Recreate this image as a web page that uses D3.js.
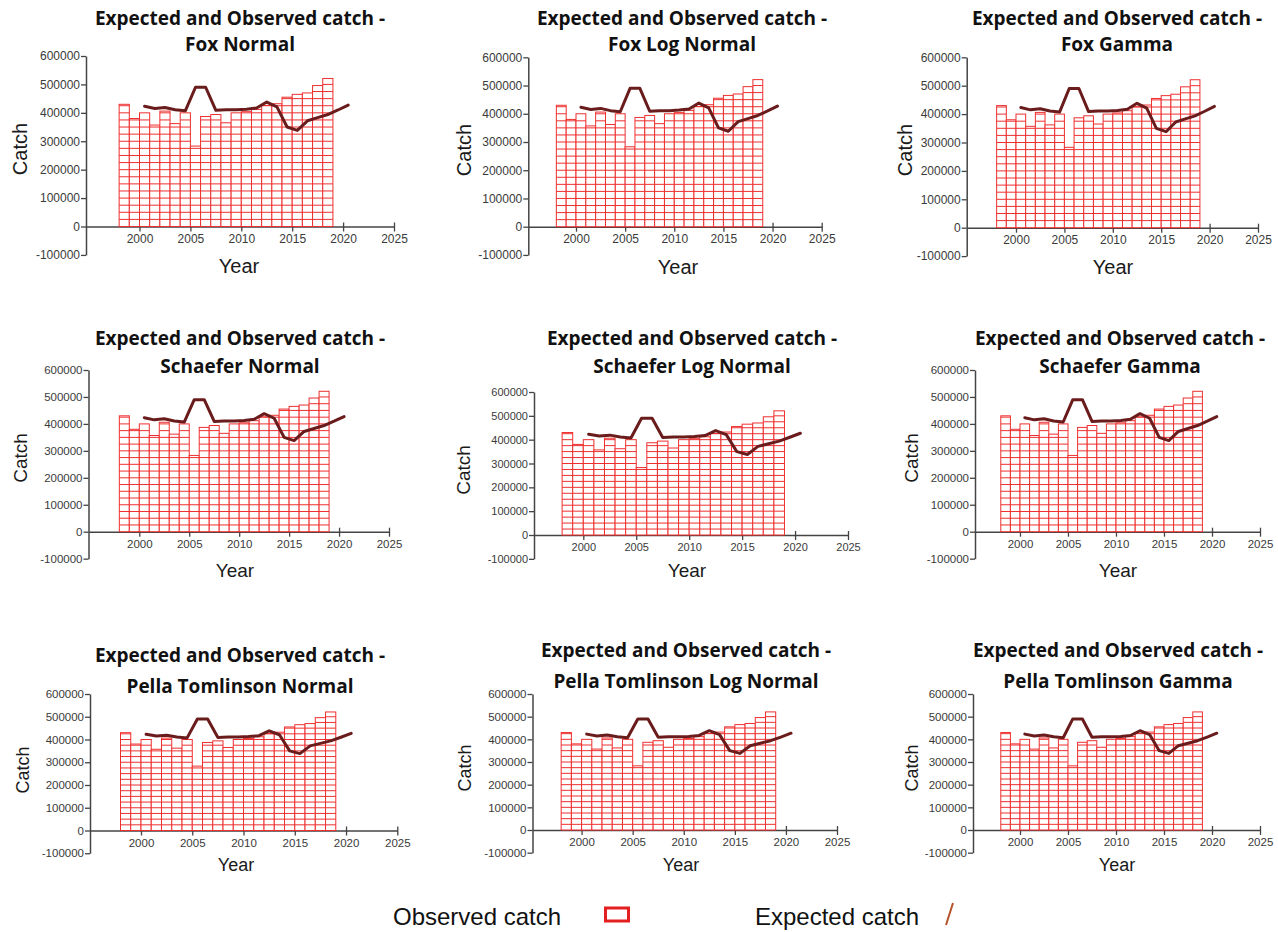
<!DOCTYPE html>
<html>
<head>
<meta charset="utf-8">
<script src="https://cdn.jsdelivr.net/npm/d3@7"></script>
<style>
  html, body { margin: 0; padding: 0; background: #fff; }
  svg { display: block; }
</style>
</head>
<body>
<svg id="chart" width="1278" height="932"></svg>
<script>
// Observed catch: one block per year, filling [year, year + 1)
const obsYears = [1998, 1999, 2000, 2001, 2002, 2003, 2004, 2005, 2006, 2007, 2008,
                  2009, 2010, 2011, 2012, 2013, 2014, 2015, 2016, 2017, 2018];
const obsCatch = [430000, 380000, 400000, 357000, 406000, 362000, 400000, 283000, 387000, 394000, 365000,
                  400000, 404000, 412000, 426000, 432000, 455000, 465000, 470000, 496000, 521000];

// Expected catch from the fitted model, plotted at mid-year
const expYears = [2000, 2001, 2002, 2003, 2004, 2005, 2006, 2007, 2008, 2009, 2010,
                  2011, 2012, 2013, 2014, 2015, 2016, 2017, 2018, 2019, 2020];
const expCatch = [423000, 415000, 419000, 411000, 407000, 490000, 490000, 409000, 411000, 411000, 413000,
                  417000, 438000, 421000, 350000, 338000, 372000, 383000, 394000, 410000, 427000];

const yTicks = [-100000, 0, 100000, 200000, 300000, 400000, 500000, 600000];
const xTicks = [2000, 2005, 2010, 2015, 2020, 2025];
const hatchStep = 25000;

const titleLine = "Expected and Observed catch -";
const models = [
  "Fox Normal", "Fox Log Normal", "Fox Gamma",
  "Schaefer Normal", "Schaefer Log Normal", "Schaefer Gamma",
  "Pella Tomlinson Normal", "Pella Tomlinson Log Normal", "Pella Tomlinson Gamma"
];
const legendLabels = ["Observed catch", "Expected catch"];

// Panel frames: y-axis position, pixel spots of 2000/2025 and 0/600000,
// title centre and line centres, axis-title centres, font sizes
const frames = [
  { ax: 86,    x0: 139.5, x1: 394,   yTop: 56,   yZero: 226.5, tx: 240,  t1: 18.5,  t2: 44.7, cx: 20,    cy: 149, yx: 239,  yy: 266, fs: 20, tk: 12 },
  { ax: 528.3, x0: 576,   x1: 821.7, yTop: 57.3, yZero: 226.7, tx: 682,  t1: 18.5,  t2: 44.7, cx: 464,   cy: 150, yx: 678,  yy: 267, fs: 20, tk: 12 },
  { ax: 966.7, x0: 1016,  x1: 1258,  yTop: 57.3, yZero: 227.7, tx: 1117, t1: 18.5,  t2: 44.7, cx: 905,   cy: 150, yx: 1113, yy: 267, fs: 20, tk: 12 },
  { ax: 88.5,  x0: 139.3, x1: 389,   yTop: 370,  yZero: 531.7, tx: 240,  t1: 338,   t2: 366,  cx: 20.5,  cy: 458, yx: 235,  yy: 570, fs: 19, tk: 11.5 },
  { ax: 534,   x0: 583.3, x1: 848,   yTop: 392,  yZero: 535,   tx: 692,  t1: 338,   t2: 366,  cx: 463,   cy: 470, yx: 687,  yy: 570, fs: 19, tk: 11 },
  { ax: 975,   x0: 1020,  x1: 1260,  yTop: 370,  yZero: 531.7, tx: 1120, t1: 338,   t2: 366,  cx: 911,   cy: 458, yx: 1118, yy: 570, fs: 19, tk: 11.5 },
  { ax: 90,    x0: 141,   x1: 397.3, yTop: 694,  yZero: 830.5, tx: 240,  t1: 655,   t2: 686,  cx: 23,    cy: 770, yx: 236,  yy: 865, fs: 18, tk: 11.5 },
  { ax: 532.5, x0: 581.6, x1: 837,   yTop: 694,  yZero: 830,   tx: 686,  t1: 650.7, t2: 681,  cx: 464.5, cy: 768, yx: 681,  yy: 865, fs: 18, tk: 11.5 },
  { ax: 973,   x0: 1020,  x1: 1260,  yTop: 694,  yZero: 830,   tx: 1118, t1: 650.7, t2: 681,  cx: 912,   cy: 768, yx: 1117, yy: 865, fs: 18, tk: 11.5 }
];

const AXIS_FONT = "'Liberation Sans', Arial, sans-serif";
const TITLE_FONT = "'Open Sans', 'Noto Sans', sans-serif";
const BAR_RED = "#ef2f2f";
const LINE_COLOR = "#6a1c1c";
const AXIS_COLOR = "#444";

const svg = d3.select("#chart");

models.forEach((model, i) => {
  const f = frames[i];
  const g = svg.append("g").attr("class", "panel");

  // scales: calibrate on the 2000/2025 and 0/600000 marks, then stretch to the axis ends
  const x = d3.scaleLinear().domain([2000, 2025]).range([f.x0, f.x1]);
  const xStart = x.invert(f.ax);
  x.domain([xStart, 2025]).range([f.ax, f.x1]);
  const y = d3.scaleLinear().domain([0, 600000]).range([f.yZero, f.yTop]);
  const yBottom = y(-100000);
  y.domain([-100000, 600000]).range([yBottom, f.yTop]);

  // title
  const title = g.append("text")
    .attr("text-anchor", "middle")
    .attr("font-family", TITLE_FONT)
    .attr("font-weight", 700)
    .attr("font-size", 19)
    .attr("fill", "#111");
  title.append("tspan").attr("x", f.tx).attr("y", f.t1).attr("dy", "0.35em").text(titleLine);
  title.append("tspan").attr("x", f.tx).attr("y", f.t2).attr("dy", "0.35em").text(model);

  // x axis along the zero line
  const xa = g.append("g")
    .attr("transform", `translate(0,${y(0)})`)
    .call(d3.axisBottom(x).tickValues(xTicks).tickSize(5).tickSizeOuter(0).tickPadding(3)
      .tickFormat(d3.format("d")));
  xa.selectAll(".tick line").attr("y1", -4);

  // y axis
  const ya = g.append("g")
    .attr("transform", `translate(${f.ax},0)`)
    .call(d3.axisLeft(y).tickValues(yTicks).tickSize(5).tickSizeOuter(0).tickPadding(1)
      .tickFormat(d => String(d)));

  [xa, ya].forEach(a => {
    a.select(".domain").attr("stroke", AXIS_COLOR).attr("stroke-width", 1.5);
    a.selectAll(".tick line").attr("stroke", AXIS_COLOR).attr("stroke-width", 1.3);
    a.selectAll(".tick text")
      .attr("fill", "#3a3a3a")
      .attr("font-family", AXIS_FONT)
      .attr("font-size", f.tk);
  });

  // observed catch bars
  const bars = g.append("g").attr("class", "observed");
  bars.selectAll("rect")
    .data(obsYears)
    .join("rect")
    .attr("x", d => x(d))
    .attr("width", d => x(d + 1) - x(d))
    .attr("y", (d, j) => y(obsCatch[j]))
    .attr("height", (d, j) => y(0) - y(obsCatch[j]))
    .attr("fill", "#fff")
    .attr("stroke", BAR_RED)
    .attr("stroke-width", 1);

  // horizontal hatch inside each bar
  const hatch = [];
  obsYears.forEach((yr, j) => {
    d3.range(hatchStep, obsCatch[j], hatchStep).forEach(v => hatch.push({ yr, v }));
  });
  bars.selectAll("line")
    .data(hatch)
    .join("line")
    .attr("x1", d => x(d.yr))
    .attr("x2", d => x(d.yr + 1))
    .attr("y1", d => y(d.v))
    .attr("y2", d => y(d.v))
    .attr("stroke", BAR_RED)
    .attr("stroke-width", 1);

  // expected catch line
  const line = d3.line()
    .x((d, j) => x(expYears[j] + 0.5))
    .y(d => y(d));
  g.append("path")
    .datum(expCatch)
    .attr("d", line)
    .attr("fill", "none")
    .attr("stroke", LINE_COLOR)
    .attr("stroke-width", 3)
    .attr("stroke-linejoin", "round")
    .attr("stroke-linecap", "round");

  // axis titles
  g.append("text")
    .attr("transform", `translate(${f.cx},${f.cy}) rotate(-90)`)
    .attr("text-anchor", "middle")
    .attr("dy", "0.35em")
    .attr("font-family", AXIS_FONT)
    .attr("font-size", f.fs)
    .attr("fill", "#1a1a1a")
    .text("Catch");
  g.append("text")
    .attr("x", f.yx)
    .attr("y", f.yy)
    .attr("text-anchor", "middle")
    .attr("dy", "0.35em")
    .attr("font-family", AXIS_FONT)
    .attr("font-size", f.fs)
    .attr("fill", "#1a1a1a")
    .text("Year");
});

// legend
const legend = svg.append("g").attr("class", "legend")
  .attr("font-family", AXIS_FONT)
  .attr("font-size", 24)
  .attr("fill", "#111");
legend.append("text").attr("x", 393).attr("y", 925).text(legendLabels[0]);
legend.append("rect")
  .attr("x", 605.5).attr("y", 908).attr("width", 23).attr("height", 13)
  .attr("fill", "#fff").attr("stroke", "#e3201f").attr("stroke-width", 3);
legend.append("text").attr("x", 755).attr("y", 925).text(legendLabels[1]);
legend.append("line")
  .attr("x1", 953).attr("y1", 903).attr("x2", 946).attr("y2", 925)
  .attr("stroke", "#b4532a").attr("stroke-width", 2);
</script>
</body>
</html>
